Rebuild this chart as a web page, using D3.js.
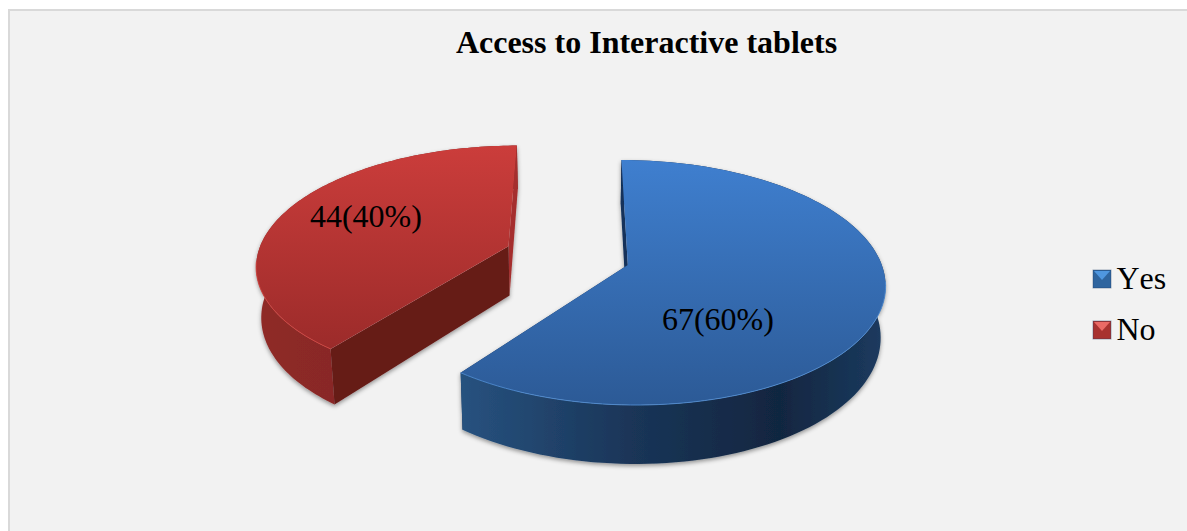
<!DOCTYPE html>
<html>
<head>
<meta charset="utf-8">
<script src="https://cdn.jsdelivr.net/npm/d3@7"></script>
<style>
html, body { margin: 0; padding: 0; background: #fff; }
svg { display: block; }
text { font-family: "Liberation Serif", serif; fill: #000; }
</style>
</head>
<body>
<div id="chart"></div>
<script>
const w = 1187
const h = 531

// values
const categories = ['Yes', 'No']
const counts = [67, 44]
const percents = [60, 40]
const chartTitle = 'Access to Interactive tablets'

// tilted pie camera
const vx = 577, vy = 265      // centre of the view
const rx = 254, ry = 120      // disc radius on screen
const persp = 0.143           // nearer = bigger
const depth = 50.5            // wall height
const zShrink = 0.016         // walls lean toward the centre

// where each slice was pulled to, and where its label sits inside it
const explode = [[0.2, 0], [-0.276, -0.16]]
const labelAt = [[0.321, 0.425], [-0.606, -0.27]]

const topColors = [['#3f7fcf', '#2c5a96'], ['#cb3d3b', '#9c2b2a']]
const rimColors = [
    [['#27527f', 0], ['#1a3558', 0.4], ['#112640', 0.75], ['#1c3b60', 1]],
    [['#8f2a28', 0], ['#7a2321', 1]]
]
// wall at the first cut of each slice, wall at its last cut
const sideColors = [['#12305a', '#12305a'], ['#661b19', '#a52f2d']]
const edgeColors = ['#4f8bd0', '#cf4440']

const svg = d3.select('#chart').append('svg').attr('width', w).attr('height', h)
const defs = svg.append('defs')

defs.append('filter').attr('id', 'shade')
    .attr('x', '-10%').attr('y', '-10%').attr('width', '120%').attr('height', '120%')
    .append('feDropShadow')
    .attr('dx', 0).attr('dy', 2).attr('stdDeviation', 2)
    .attr('flood-color', '#000').attr('flood-opacity', 0.4)

// panel
svg.append('rect').attr('width', w).attr('height', h).attr('fill', '#fff')
svg.append('rect')
    .attr('x', 9).attr('y', 10).attr('width', w).attr('height', h)
    .attr('fill', '#f2f2f2').attr('stroke', '#d9d9d9').attr('stroke-width', 2)

function project(u, v, z) {
    const s = 1 / (1 - persp * v)
    const lean = 1 - zShrink * z
    return [vx + rx * u * s * lean, vy + (ry * v + depth * z) * s]
}

const pie = d3.pie().sort(null).startAngle(0).endAngle(2 * Math.PI)
const slices = pie(counts)
const line = d3.line()

function rimPoints(d, i, z) {
    const [ox, oy] = explode[i]
    return d3.range(0, 121).map(k => {
        const a = d.startAngle + (d.endAngle - d.startAngle) * k / 120
        return project(ox + Math.sin(a), oy - Math.cos(a), z)
    })
}

// gradients
slices.forEach((d, i) => {
    const tops = rimPoints(d, i, 0).concat([project(explode[i][0], explode[i][1], 0)])
    const tg = defs.append('linearGradient').attr('id', 'top' + i)
        .attr('gradientUnits', 'userSpaceOnUse')
        .attr('x1', 0).attr('x2', 0)
        .attr('y1', d3.min(tops, p => p[1])).attr('y2', d3.max(tops, p => p[1]))
    tg.append('stop').attr('offset', 0).attr('stop-color', topColors[i][0])
    tg.append('stop').attr('offset', 1).attr('stop-color', topColors[i][1])

    const rg = defs.append('linearGradient').attr('id', 'rim' + i)
        .attr('gradientUnits', 'userSpaceOnUse')
        .attr('y1', 0).attr('y2', 0)
        .attr('x1', d3.min(tops, p => p[0])).attr('x2', d3.max(tops, p => p[0]))
    rimColors[i].forEach(c => rg.append('stop').attr('offset', c[1]).attr('stop-color', c[0]))
})

const g = svg.selectAll('g.slice').data(slices).enter().append('g').attr('class', 'slice')

g.each(function (d, i) {
    const sel = d3.select(this)
    const apexT = project(explode[i][0], explode[i][1], 0)
    const apexB = project(explode[i][0], explode[i][1], 1)
    const top = rimPoints(d, i, 0)
    const bottom = rimPoints(d, i, 1)
    const walls = sel.append('g').attr('filter', 'url(#shade)')

    const lastCut = line([apexT, top[120], bottom[120], apexB]) + 'Z'
    // the blue slice's last cut faces away, so it goes behind the rim
    if (i === 0) walls.append('path').attr('d', lastCut).attr('fill', sideColors[i][1])
    walls.append('path')
        .attr('d', line(top.concat(bottom.slice().reverse())) + 'Z')
        .attr('fill', 'url(#rim' + i + ')')
    if (i === 1) walls.append('path').attr('d', lastCut).attr('fill', sideColors[i][1])
    walls.append('path')
        .attr('d', line([apexT, top[0], bottom[0], apexB]) + 'Z')
        .attr('fill', sideColors[i][0])

    sel.append('path')
        .attr('d', line([apexT].concat(top)) + 'Z')
        .attr('fill', 'url(#top' + i + ')')
    // thin light edge, only along the front of the disc
    sel.append('path')
        .attr('d', line(top.filter(p => p[1] > apexT[1] + 15)))
        .attr('fill', 'none')
        .attr('stroke', edgeColors[i])
        .attr('stroke-width', 0.9)
})

// data labels
g.append('text')
    .attr('x', (d, i) => project(explode[i][0] + labelAt[i][0], explode[i][1] + labelAt[i][1], 0)[0])
    .attr('y', (d, i) => project(explode[i][0] + labelAt[i][0], explode[i][1] + labelAt[i][1], 0)[1])
    .attr('dy', '0.34em')
    .attr('text-anchor', 'middle')
    .style('font-size', '32px')
    .text((d, i) => counts[i] + '(' + percents[i] + '%)')

svg.append('text')
    .attr('x', 646.5).attr('y', 53)
    .attr('text-anchor', 'middle')
    .style('font-size', '32px')
    .style('font-weight', 'bold')
    .text(chartTitle)

// legend
const legendY = d3.scalePoint().domain(categories).range([279, 330])
const keyColor = d3.scaleOrdinal().domain(categories).range(['#2f659f', '#a83230'])
const keyLight = d3.scaleOrdinal().domain(categories).range(['#4f97e0', '#ea6a66'])
const keySize = 18
const keyX = 1093

const legend = svg.selectAll('g.legend').data(categories).enter().append('g')
    .attr('class', 'legend')
    .attr('transform', d => `translate(${keyX},${legendY(d)})`)

legend.append('rect')
    .attr('x', 0).attr('y', -keySize / 2)
    .attr('width', keySize).attr('height', keySize)
    .attr('fill', keyColor)
    .attr('stroke', '#1f3f66').attr('stroke-opacity', 0.4)
legend.append('path')
    .attr('d', line([[1, -keySize / 2 + 1], [keySize - 1, -keySize / 2 + 1], [keySize / 2, 1]]) + 'Z')
    .attr('fill', keyLight)
legend.append('text')
    .attr('x', 23.5).attr('dy', '0.32em')
    .style('font-size', '32px')
    .style('font-kerning', 'none')
    .text(d => d)
</script>
</body>
</html>
